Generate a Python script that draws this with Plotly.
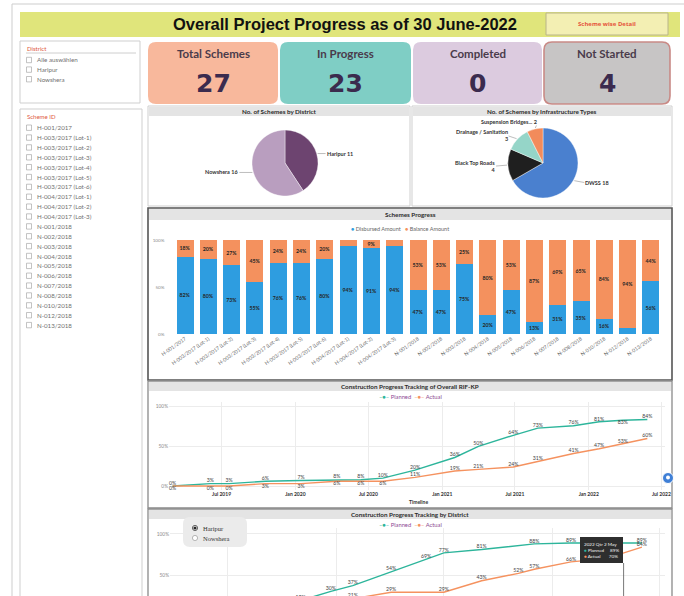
import math
import plotly.graph_objects as go

W, H = 684, 596
FONT = "Lato"
TITLE_FONT = "Liberation Sans"
NUM_FONT = "DejaVu Sans"

# ---------------- data ----------------
kpi_titles = ["Total Schemes", "In Progress", "Completed", "Not Started"]
kpi_values = [27, 23, 0, 4]

district_options = ["Alle auswählen", "Haripur", "Nowshera"]
districts = ["Haripur", "Nowshera"]
district_counts = [11, 16]

infra_types = ["DWSS", "Black Top Roads", "Drainage / Sanitation", "Suspension Bridges..."]
infra_counts = [18, 4, 3, 2]

scheme_ids = [
    "H-001/2017", "H-003/2017 (Lot-1)", "H-003/2017 (Lot-2)", "H-003/2017 (Lot-3)",
    "H-003/2017 (Lot-4)", "H-003/2017 (Lot-5)", "H-003/2017 (Lot-6)",
    "H-004/2017 (Lot-1)", "H-004/2017 (Lot-2)", "H-004/2017 (Lot-3)",
    "N-001/2018", "N-002/2018", "N-003/2018", "N-004/2018", "N-005/2018",
    "N-006/2018", "N-007/2018", "N-008/2018", "N-010/2018", "N-012/2018", "N-013/2018",
]
disbursed_pct = [82, 80, 73, 55, 76, 76, 80, 94, 91, 94, 47, 47, 75, 20, 47, 13, 31, 35, 16, 6, 56]
balance_pct = [18, 20, 27, 45, 24, 24, 20, 6, 9, 6, 53, 53, 25, 80, 53, 87, 69, 65, 84, 94, 44]

overall_dates = [
    "2019-03-01", "2019-06-03", "2019-07-20", "2019-10-18", "2020-01-15", "2020-04-13",
    "2020-06-12", "2020-08-06", "2020-10-25", "2021-02-01", "2021-04-01", "2021-06-27",
    "2021-08-27", "2021-11-24", "2022-01-27", "2022-03-27", "2022-05-27",
]
overall_planned = [0, 3, 3, 6, 7, 8, 8, 10, 20, 36, 50, 64, 73, 76, 81, 83, 84]
overall_actual = [0, 0, 0, 3, 3, 6, 6, 6, 11, 19, 21, 24, 31, 41, 47, 53, 60]

district_planned_dates = [
    "2020-11-01", "2020-12-22", "2021-01-28", "2021-04-03", "2021-06-01", "2021-07-01",
    "2021-09-03", "2021-12-01", "2022-02-01", "2022-04-01", "2022-06-01",
]
district_planned = [19, 30, 37, 54, 69, 77, 81, 88, 89, 89, 89]
district_actual_dates = [
    "2020-11-01", "2020-12-22", "2021-01-28", "2021-04-03", "2021-07-01", "2021-09-03",
    "2021-11-04", "2021-12-01", "2022-02-01", "2022-04-01", "2022-06-01",
]
district_actual = [12, 17, 21, 29, 29, 43, 52, 57, 66, 70, 84]

slicer_options = ["Haripur", "Nowshera"]

# ---------------- colours ----------------
BLUE = "#2e9de0"
ORANGE = "#f4915e"
TEAL = "#2db59b"
PEACH = "#f5925f"
LEGEND_TXT = "#8e4a93"


def px(x):
    return x / W


def py(y):
    return 1 - y / H


shapes = []
annotations = []


def rect(x0, y0, x1, y1, fill=None, line=None, width=1):
    shapes.append(dict(
        type="rect", xref="paper", yref="paper", layer="below",
        x0=px(x0), x1=px(x1), y0=py(y1), y1=py(y0),
        fillcolor=fill or "rgba(0,0,0,0)",
        line=dict(color=line or "rgba(0,0,0,0)", width=width if line else 0),
    ))


def rrect(x0, y0, x1, y1, r, fill, line=None, width=1, layer="below"):
    def p(x, y):
        return f"{px(x):.5f},{py(y):.5f}"
    path = (f"M {p(x0 + r, y0)} L {p(x1 - r, y0)} Q {p(x1, y0)} {p(x1, y0 + r)} "
            f"L {p(x1, y1 - r)} Q {p(x1, y1)} {p(x1 - r, y1)} "
            f"L {p(x0 + r, y1)} Q {p(x0, y1)} {p(x0, y1 - r)} "
            f"L {p(x0, y0 + r)} Q {p(x0, y0)} {p(x0 + r, y0)} Z")
    shapes.append(dict(
        type="path", xref="paper", yref="paper", layer=layer, path=path,
        fillcolor=fill,
        line=dict(color=line or "rgba(0,0,0,0)", width=width if line else 0),
    ))


def circle(cx, cy, r, fill, line=None, width=0.8, layer="above"):
    shapes.append(dict(
        type="circle", xref="paper", yref="paper", layer=layer,
        x0=px(cx - r), x1=px(cx + r), y0=py(cy + r), y1=py(cy - r),
        fillcolor=fill, line=dict(color=line or "rgba(0,0,0,0)", width=width if line else 0),
    ))


def text(x, y, s, size=6, color="#333", bold=False, family=FONT, xanchor="center",
         yanchor="middle", **kw):
    annotations.append(dict(
        x=px(x), y=py(y), xref="paper", yref="paper", showarrow=False,
        text=f"<b>{s}</b>" if bold else s,
        font=dict(size=size, color=color, family=family),
        xanchor=xanchor, yanchor=yanchor, borderpad=0, **kw,
    ))


# ---------------- page frame, header ----------------
rect(12, 4, 700, 620, line="#cdcdcd", width=1)
rect(20, 12, 680, 37, fill="#e0e57b")
text(345, 23.5, "Overall Project Progress as of 30 June-2022", size=16.5, color="#111",
     bold=True, family=TITLE_FONT)
rect(546, 13, 668, 35, fill="#f3efb3", line="#b9b48a", width=1)
text(607, 24, "Scheme wise Detail", size=6, color="#e5533c", bold=True, family="Open Sans")

# ---------------- slicers ----------------
rect(20, 41, 140, 103, fill="white", line="#cfcfcf")
text(26, 48, "District", size=6, color="#e0563d", xanchor="left")
shapes.append(dict(type="line", xref="paper", yref="paper", x0=px(26), x1=px(136),
                   y0=py(53), y1=py(53), line=dict(color="#c2c2c2", width=0.8)))
for i, name in enumerate(district_options):
    yy = 60 + i * 9.6
    rect(26.5, yy - 2.7, 31.5, yy + 2.7, fill="white", line="#9a9a9a", width=0.6)
    text(36, yy, name, size=6.2, color="#707070", xanchor="left")

rect(20, 109, 142, 620, fill="white", line="#cfcfcf")
text(26, 116.5, "Scheme ID", size=6, color="#e0563d", xanchor="left")
for i, name in enumerate(scheme_ids):
    yy = 127.7 + i * 9.87
    rect(26.5, yy - 2.7, 31.5, yy + 2.7, fill="white", line="#9a9a9a", width=0.6)
    text(36, yy, name, size=6.2, color="#707070", xanchor="left")

# ---------------- KPI cards ----------------
card_boxes = [(148, 278), (280, 411), (413, 542), (544, 670)]
card_fills = ["#f8b89c", "#7fcec5", "#dccbdf", "#c7c5c5"]
card_lines = [None, None, None, "#c98a86"]
for (x0, x1), fill, ln, title, val in zip(card_boxes, card_fills, card_lines, kpi_titles, kpi_values):
    rrect(x0, 42, x1, 104, 8, fill, line=ln, width=1.6)
    cx = (x0 + x1) / 2
    text(cx, 53, title, size=11.5, color="#4a3b4b", bold=True)
    text(cx, 83, str(val), size=25, color="#3b2b4e", bold=True, family=NUM_FONT)

# ---------------- panels ----------------
def panel(x0, y0, x1, y1, title, border="#cfcfcf", bw=1, head=10):
    rect(x0, y0, x1, y1, fill="white", line=border, width=bw)
    rect(x0 + 1, y0 + 1, x1 - 1, y0 + head, fill="#e4e4e4")
    text((x0 + x1) / 2, y0 + 1 + (head - 1) / 2, title, size=6.3, color="#2b2b2b", bold=True)


panel(148, 106, 410, 206, "No. of Schemes by District")
panel(412, 106, 672, 206, "No. of Schemes by Infrastructure Types")
panel(148, 208, 672, 380, "Schemes Progress", border="#555555", bw=1.6, head=12)
panel(148, 381, 672, 508, "Construction Progress Tracking of Overall RIF-KP", border="#8a8a8a", bw=1.3)
panel(148, 509, 672, 625, "Construction Progress Tracking by District", border="#8a8a8a", bw=1.3)

# ---------------- pies ----------------
fig = go.Figure()
fig.add_trace(go.Pie(
    labels=districts, values=district_counts, sort=False, direction="clockwise", rotation=0,
    marker=dict(colors=["#6d4470", "#b99ebf"], line=dict(color="white", width=0.4)),
    textinfo="none", hoverinfo="skip", showlegend=False,
    domain=dict(x=[px(252), px(318)], y=[py(196), py(130)]),
))
fig.add_trace(go.Pie(
    labels=infra_types, values=infra_counts, sort=False, direction="clockwise", rotation=0,
    marker=dict(colors=["#4a80cf", "#1f1f1f", "#95d5c8", "#f28b5b"], line=dict(color="white", width=0.4)),
    textinfo="none", hoverinfo="skip", showlegend=False,
    domain=dict(x=[px(508), px(578)], y=[py(198), py(128)]),
))


def pie_callouts(labels, values, cx, cy, r, fmts, offsets):
    total = sum(values)
    cum = 0
    for lab, v, fmt, (dx, dy, anchor) in zip(labels, values, fmts, offsets):
        mid = (cum + v / 2) / total * 2 * math.pi
        cum += v
        ex = cx + r * math.sin(mid)
        ey = cy - r * math.cos(mid)
        annotations.append(dict(
            x=px(ex), y=py(ey), xref="paper", yref="paper", showarrow=True,
            ax=dx, ay=dy, arrowhead=0, arrowwidth=0.7, arrowcolor="#a0a0a0", standoff=1,
            text="<b>" + fmt.format(lab, v) + "</b>", xanchor=anchor, yanchor="middle",
            align="right" if anchor == "right" else "left", borderpad=0,
            font=dict(size=5.5, color="#333", family=FONT),
        ))


pie_callouts(districts, district_counts, 285, 163, 33, ["{} {}", "{} {}"],
             [(9, 0, "left"), (-14, 0, "right")])
pie_callouts(infra_types, infra_counts, 543, 163, 35,
             ["{} {}", "{}<br>{}", "{}<br>{}", "{} {}"],
             [(11, 2, "left"), (-12, 1, "right"), (-9, -3, "right"), (3, -7, "right")])

# ---------------- stacked bars ----------------
def pct_labels(vals):
    return [f"<b>{v}%</b>" if v >= 8 else "" for v in vals]


for vals, color in [(disbursed_pct, BLUE), (balance_pct, ORANGE)]:
    fig.add_trace(go.Bar(
        x=scheme_ids, y=vals, marker=dict(color=color, line=dict(width=0)),
        text=pct_labels(vals), textposition="inside", insidetextanchor="middle",
        textangle=0, constraintext="none", cliponaxis=False,
        textfont=dict(size=5.2, color="#262626", family=FONT),
        hoverinfo="skip", showlegend=False, xaxis="x", yaxis="y",
    ))
text(400, 229, f"<span style='color:{BLUE}'>●</span> Disbursed Amount   "
               f"<span style='color:{ORANGE}'>●</span> Balance Amount",
     size=5.5, color="#666")

# ---------------- overall tracking lines ----------------
planned_pos = ["top center"] * len(overall_planned)
planned_pos[15] = "bottom center"
actual_pos = ["bottom center"] * 8 + ["top center"] * (len(overall_actual) - 8)
for vals, color, pos in [(overall_planned, TEAL, planned_pos), (overall_actual, PEACH, actual_pos)]:
    fig.add_trace(go.Scatter(
        x=overall_dates, y=vals, mode="lines+text", line=dict(color=color, width=1.4),
        text=[f"{v}%" for v in vals], textposition=pos, cliponaxis=False,
        textfont=dict(size=5.2, color="#444", family=FONT),
        hoverinfo="skip", showlegend=False, xaxis="x2", yaxis="y2",
    ))


def line_legend(y):
    text(410, y, f"<span style='color:{TEAL}'>–●–</span> <span style='color:{LEGEND_TXT}'>Planned</span>"
                 f"  <span style='color:{PEACH}'>–●–</span> <span style='color:{LEGEND_TXT}'>Actual</span>",
         size=5.8, color=LEGEND_TXT)


line_legend(396)
text(418, 502, "Timeline", size=5, color="#333", bold=True)

# ---------------- district tracking lines ----------------
for xs, vals, color in [(district_planned_dates, district_planned, TEAL),
                        (district_actual_dates, district_actual, PEACH)]:
    fig.add_trace(go.Scatter(
        x=xs, y=vals, mode="lines+text", line=dict(color=color, width=1.4),
        text=[f"{v}%" for v in vals], textposition="top center", cliponaxis=True,
        textfont=dict(size=5.2, color="#444", family=FONT),
        hoverinfo="skip", showlegend=False, xaxis="x3", yaxis="y3",
    ))
line_legend(524)

# district slicer inset
rrect(183, 517, 247, 547, 7, "#ebebeb", layer="above")
for i, name in enumerate(slicer_options):
    yy = 528 + i * 10
    circle(195, yy, 2.6, "#ffffff", line="#9a9a9a" if i else "#222", width=0.7)
    if i == 0:
        circle(195, yy, 1.6, "#222")
    text(202, yy, name, size=6.5, color="#333", family="Liberation Serif", xanchor="left")

# hover crosshair and tooltip
shapes.append(dict(type="line", xref="x3", yref="paper", x0="2022-05-01", x1="2022-05-01",
                   y0=py(563), y1=0, line=dict(color="#555", width=0.8), layer="above"))
annotations.append(dict(
    x=px(623), y=py(537), xref="paper", yref="paper", showarrow=False,
    xanchor="right", yanchor="top",
    text="2022 Qtr 2 May<br>"
         f"<span style='color:{TEAL}'>●</span> Planned     89%<br>"
         f"<span style='color:{PEACH}'>●</span> Actual       70%",
    font=dict(size=4.6, color="#f2f2f2", family=FONT), align="left",
    bgcolor="#2e2e2e", bordercolor="#2e2e2e", borderpad=3,
))

# small chat icon at the panel edge
circle(668, 478, 5.5, "#3f7fd6", line="#ffffff", width=1)
circle(668, 477.5, 2, "#ffffff")

# ---------------- axes ----------------
axis_common = dict(showline=False, zeroline=False, ticks="", automargin=False, fixedrange=True)
fig.update_layout(
    width=W, height=H, margin=dict(l=0, r=0, t=0, b=0),
    paper_bgcolor="white", plot_bgcolor="rgba(0,0,0,0)",
    barmode="stack", bargap=0.27, showlegend=False, hovermode=False,
    font=dict(family=FONT),
    xaxis=dict(domain=[px(173.4), px(662.6)], anchor="y", type="category", tickmode="array",
               tickvals=scheme_ids, ticktext=scheme_ids, tickangle=-35, showgrid=False,
               tickfont=dict(size=5.1, color="#6a6a6a"), **axis_common),
    yaxis=dict(domain=[py(334), py(240)], anchor="x", range=[0, 100], tickvals=[0, 50, 100],
               ticktext=["0%", "50%", "100%"], showgrid=False, ticklabelstandoff=8,
               tickfont=dict(size=4.6, color="#8a8a8a"), **axis_common),
    xaxis2=dict(domain=[px(169), px(665)], anchor="y2", type="date",
                range=["2019-02-20", "2022-07-10"], tick0="2019-07-01", dtick="M6",
                tickformat="%b %Y", showgrid=True, gridcolor="#ececec", gridwidth=0.8,
                tickfont=dict(size=5, color="#333", weight="bold"), **axis_common),
    yaxis2=dict(domain=[py(490), py(402)], anchor="x2", range=[-5, 106], tickvals=[0, 50, 100],
                ticktext=["0%", "50%", "100%"], showgrid=True, gridcolor="#ececec", gridwidth=0.8,
                tickfont=dict(size=4.8, color="#8a8a8a"), **axis_common),
    xaxis3=dict(domain=[px(170), px(665)], anchor="y3", type="date",
                range=["2020-03-25", "2022-07-10"], tick0="2020-07-01", dtick="M6",
                showticklabels=False, showgrid=True, gridcolor="#ececec", gridwidth=0.8,
                **axis_common),
    yaxis3=dict(domain=[0, py(528)], anchor="x3", range=[24.4, 107.3], tickvals=[50, 100],
                ticktext=["50%", "100%"], showgrid=True, gridcolor="#ececec", gridwidth=0.8,
                tickfont=dict(size=4.8, color="#8a8a8a"), **axis_common),
    shapes=shapes, annotations=annotations,
)

fig.write_html("out.html")
